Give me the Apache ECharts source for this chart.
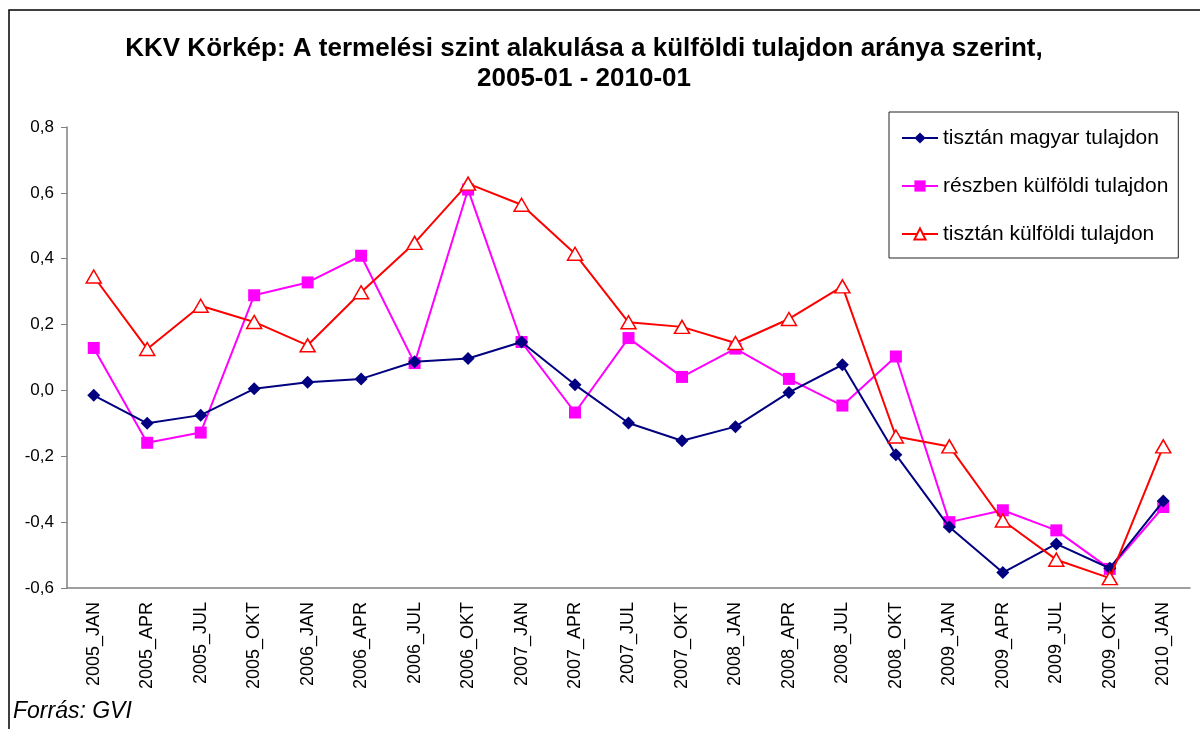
<!DOCTYPE html>
<html>
<head>
<meta charset="utf-8">
<script src="https://cdn.jsdelivr.net/npm/echarts@6/dist/echarts.min.js"></script>
<style>
  html, body { margin: 0; padding: 0; background: #fff; }
  #main { width: 1200px; height: 729px; }
</style>
</head>
<body>
<div id="main"></div>
<script>
// adatok
var categories = ['2005_JAN', '2005_APR', '2005_JUL', '2005_OKT', '2006_JAN', '2006_APR', '2006_JUL',
  '2006_OKT', '2007_JAN', '2007_APR', '2007_JUL', '2007_OKT', '2008_JAN', '2008_APR', '2008_JUL',
  '2008_OKT', '2009_JAN', '2009_APR', '2009_JUL', '2009_OKT', '2010_JAN']

var magyar = [-0.015, -0.10, -0.075, 0.005, 0.025, 0.035, 0.087, 0.097, 0.147, 0.017, -0.099,
  -0.153, -0.110, -0.006, 0.078, -0.195, -0.415, -0.553, -0.466, -0.540, -0.336]

var reszben = [0.129, -0.159, -0.128, 0.289, 0.328, 0.409, 0.083, 0.610, 0.147, -0.067, 0.159,
  0.041, 0.127, 0.035, -0.046, 0.103, -0.400, -0.364, -0.425, -0.542, -0.354]

var kulfoldi = [0.346, 0.126, 0.257, 0.208, 0.137, 0.298, 0.448, 0.628, 0.564, 0.415, 0.207,
  0.193, 0.144, 0.217, 0.316, -0.140, -0.170, -0.395, -0.514, -0.570, -0.170]

var myChart = echarts.init(document.getElementById('main'))

var font = 'Arial, "Liberation Sans", sans-serif'

var option = {
  animation: false,
  textStyle: { fontFamily: font },
  graphic: [
    {
      type: 'rect',
      shape: { x: 9, y: 10, width: 1200, height: 740 },
      style: { fill: 'none', stroke: '#000', lineWidth: 1.5 }
    },
    {
      type: 'text',
      x: 584,
      y: 34,
      style: {
        text: 'KKV Körkép: A termelési szint alakulása a külföldi tulajdon aránya szerint,\n2005-01 - 2010-01',
        font: 'bold 26px ' + font,
        fill: '#000',
        textAlign: 'center',
        lineHeight: 30
      }
    },
    {
      type: 'text',
      x: 13,
      y: 700,
      style: {
        text: 'Forrás: GVI',
        font: 'italic 23px ' + font,
        fill: '#000'
      }
    }
  ],
  legend: {
    orient: 'vertical',
    left: 889,
    top: 112,
    padding: [15, 10, 13, 12],
    itemGap: 26,
    itemWidth: 36,
    itemHeight: 14,
    borderColor: '#222',
    borderWidth: 1,
    textStyle: { fontSize: 21, lineHeight: 22, color: '#000', fontFamily: font },
    data: ['tisztán magyar tulajdon', 'részben külföldi tulajdon', 'tisztán külföldi tulajdon']
  },
  grid: {
    left: 67,
    right: 10,
    top: 127,
    bottom: 141
  },
  xAxis: {
    type: 'category',
    data: categories,
    boundaryGap: true,
    axisLine: { onZero: false, lineStyle: { color: '#808080', width: 1.5 } },
    axisTick: { length: 6, lineStyle: { color: '#808080' } },
    axisLabel: { rotate: 90, fontSize: 18, color: '#000', margin: 14, interval: 0 }
  },
  yAxis: {
    type: 'value',
    min: -0.6,
    max: 0.8,
    interval: 0.2,
    splitLine: { show: false },
    axisLine: { show: true, lineStyle: { color: '#808080', width: 1.5 } },
    axisTick: { show: true, length: 6, lineStyle: { color: '#808080' } },
    axisLabel: {
      fontSize: 17,
      color: '#000',
      margin: 13,
      formatter: function (v) { return v.toFixed(1).replace('.', ',').replace('-0,0', '0,0') }
    }
  },
  series: [
    {
      name: 'tisztán magyar tulajdon',
      type: 'line',
      data: magyar,
      symbol: 'diamond',
      symbolSize: 13,
      lineStyle: { color: '#000080', width: 2 },
      itemStyle: { color: '#000080' },
      z: 3
    },
    {
      name: 'részben külföldi tulajdon',
      type: 'line',
      data: reszben,
      symbol: 'rect',
      symbolSize: 12,
      lineStyle: { color: '#ff00ff', width: 2 },
      itemStyle: { color: '#ff00ff' },
      z: 2
    },
    {
      name: 'tisztán külföldi tulajdon',
      type: 'line',
      data: kulfoldi,
      symbol: 'triangle',
      symbolSize: [15, 13],
      lineStyle: { color: '#ff0000', width: 2 },
      itemStyle: { color: '#fff', borderColor: '#ff0000', borderWidth: 1.5 },
      z: 4
    }
  ]
}

myChart.setOption(option)
</script>
</body>
</html>
